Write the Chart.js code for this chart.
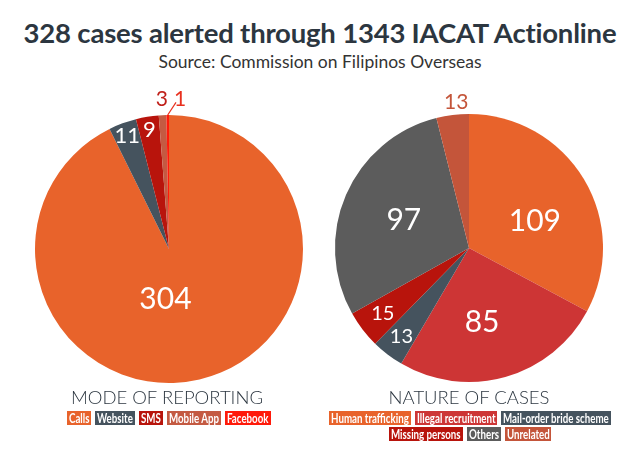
<!DOCTYPE html>
<html>
<head>
<meta charset="utf-8">
<script src="https://cdn.jsdelivr.net/npm/chart.js@4"></script>
<style>
  body { margin: 0; background: #fff; width: 640px; height: 464px; overflow: hidden; position: relative; font-family: Lato, "Open Sans", sans-serif; }
  #title { position: absolute; top: 16px; left: 0; width: 640px; text-align: center; font-size: 27.5px; font-weight: 700; color: #2c3640; line-height: 34px; letter-spacing: -0.2px; }
  #source { position: absolute; top: 51px; left: 0; width: 640px; text-align: center; font-size: 17.5px; color: #333; line-height: 22px; }
  canvas { position: absolute; }
  .heading { position: absolute; top: 385px; width: 300px; text-align: center; font-size: 18.5px; font-weight: 300; color: #2c3640; line-height: 24px; }
  .legend { position: absolute; display: flex; flex-wrap: wrap; justify-content: center; gap: 2px 4px; }
  .legend .item { display: inline-block; position: relative; height: 14px; overflow: hidden; }
  .legend .txt { position: absolute; left: 2px; top: 0; white-space: nowrap; line-height: 14px; color: #fff; font-family: Lato, sans-serif; font-weight: 700; font-size: 13.5px; transform: scaleX(0.72); transform-origin: 0 50%; }
</style>
</head>
<body>
<div id="title">328 cases alerted through 1343 IACAT Actionline</div>
<div id="source">Source: Commission on Filipinos Overseas</div>

<canvas id="pie-mode" width="300" height="340" style="left:19px; top:79px;"></canvas>
<canvas id="pie-nature" width="300" height="340" style="left:319px; top:78px;"></canvas>

<div class="heading" style="left:17px;">MODE OF REPORTING</div>
<div class="heading" style="left:319px;">NATURE OF CASES</div>
<div class="legend" id="legend-mode" style="left:19px; top:411px; width:300px;"></div>
<div class="legend" id="legend-nature" style="left:329px; top:411px; width:282px;"></div>

<script>
// --- data ---
const modeLabels = ['Calls', 'Website', 'SMS', 'Mobile App', 'Facebook'];
const modeValues = [304, 11, 9, 3, 1];
const modeColors = ['#e8632b', '#45535e', '#b8140c', '#c45a42', '#ff1a0a'];

const natureLabels = ['Human trafficking', 'Illegal recruitment', 'Mail-order bride scheme', 'Missing persons', 'Others', 'Unrelated'];
const natureValues = [109, 85, 13, 15, 97, 13];
const natureColors = ['#e8632b', '#cd3535', '#45535e', '#b8140c', '#5c5c5c', '#c4553a'];

// label placement: r = fraction of radius, angle = degrees clockwise from top (optional)
const modePlace = [
    { r: 0.38, angle: 184, size: 30 },
    { r: 0.9, size: 22 },
    { r: 0.9, size: 22 },
    { r: 1.12, size: 21, color: '#c0201a' },
    { r: 1.12, angle: 4.2, size: 21, color: '#e8301e', leader: true }
];
const naturePlace = [
    { r: 0.53, angle: 68, size: 30 },
    { r: 0.56, angle: 170, size: 30 },
    { r: 0.83, size: 20 },
    { r: 0.81, size: 20 },
    { r: 0.53, size: 30 },
    { r: 1.09, angle: 355, size: 21, color: '#c4553a' }
];

// --- plugin วาดตัวเลขบนชิ้น pie ---
const sliceLabels = {
    id: 'sliceLabels',
    afterDatasetsDraw(chart, args, opts) {
        const ctx = chart.ctx;
        const meta = chart.getDatasetMeta(0);
        const values = chart.data.datasets[0].data;
        ctx.save();
        ctx.textAlign = 'center';
        ctx.textBaseline = 'middle';
        meta.data.forEach((arc, i) => {
            const p = opts.place[i];
            const { x, y, outerRadius, startAngle, endAngle } = arc.getProps(['x', 'y', 'outerRadius', 'startAngle', 'endAngle'], true);
            const mid = (startAngle + endAngle) / 2;
            const a = p.angle != null ? p.angle * Math.PI / 180 - Math.PI / 2 : mid;
            const lx = x + Math.cos(a) * outerRadius * p.r;
            const ly = y + Math.sin(a) * outerRadius * p.r;
            ctx.font = `400 ${p.size}px Lato, "Open Sans", sans-serif`;
            ctx.fillStyle = p.color || '#fff';
            ctx.fillText(values[i], lx, ly);
            if (p.leader) {
                ctx.strokeStyle = p.color;
                ctx.lineWidth = 1.2;
                ctx.beginPath();
                ctx.moveTo(x + Math.cos(mid) * outerRadius, y + Math.sin(mid) * outerRadius);
                ctx.lineTo(lx - 4, ly + 3);
                ctx.stroke();
            }
        });
        ctx.restore();
    }
};

function makePie(id, labels, values, colors, place) {
    return new Chart(document.getElementById(id), {
        type: 'pie',
        data: {
            labels: labels,
            datasets: [{ data: values, backgroundColor: colors, borderWidth: 0 }]
        },
        options: {
            responsive: false,
            animation: false,
            events: [],
            layout: { padding: { top: 36, bottom: 36, left: 16, right: 16 } },
            plugins: {
                legend: { display: false },
                tooltip: { enabled: false },
                sliceLabels: { place: place }
            }
        },
        plugins: [sliceLabels]
    });
}

// legend แบบกล่องสี ตัวอักษรบีบแคบ
function renderLegend(id, labels, colors) {
    const box = document.getElementById(id);
    box.innerHTML = labels.map((l, i) => `<span class="item" style="background:${colors[i]}"><span class="txt">${l}</span></span>`).join('');
    box.querySelectorAll('.item').forEach(item => {
        const t = item.querySelector('.txt');
        item.style.width = Math.round(t.offsetWidth * 0.72 + 4) + 'px';
    });
}

makePie('pie-mode', modeLabels, modeValues, modeColors, modePlace);
makePie('pie-nature', natureLabels, natureValues, natureColors, naturePlace);
renderLegend('legend-mode', modeLabels, modeColors);
renderLegend('legend-nature', natureLabels, natureColors);
</script>
</body>
</html>
